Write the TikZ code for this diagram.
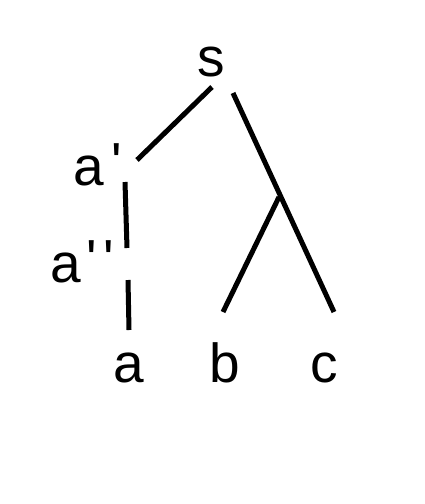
\documentclass[tikz,border=0pt]{standalone}
\usepackage{fontspec}
\newfontfamily\hf{Liberation Sans}[Ligatures=TeXOff]
\newcommand{\pr}{\raisebox{4pt}{'}}
\begin{document}
\begin{tikzpicture}[x=1pt,y=-1pt,
  lbl/.style={inner sep=0pt, anchor=base west, font=\hf\fontsize{55}{60}\selectfont},
  edge/.style={line width=5pt}]
\useasboundingbox (0,0) rectangle (424,504);
\node[lbl] (s) at (197,76) {s};
\node[lbl] (a1) at (73,185) {a\kern8pt\pr};
\node[lbl] (a2) at (50,282) {a\kern5.5pt\pr\kern7pt\pr};
\node[lbl] (a) at (113,382) {a};
\node[lbl] (b) at (209,382) {b};
\node[lbl] (c) at (310,382) {c};
\coordinate (sL) at (212,87);
\coordinate (a1T) at (137,160);
\coordinate (sR) at (233,93);
\coordinate (cT) at (334,312);
\coordinate (br) at (279,197);
\coordinate (bT) at (223,312);
\coordinate (a1B) at (125,182);
\coordinate (a2T) at (127,248);
\coordinate (a2B) at (128,280);
\coordinate (aT) at (129,330);
\draw[edge] (sL) -- (a1T);
\draw[edge] (sR) -- (cT);
\draw[edge] (br) -- (bT);
\draw[edge] (a1B) -- (a2T);
\draw[edge] (a2B) -- (aT);
\end{tikzpicture}
\end{document}
